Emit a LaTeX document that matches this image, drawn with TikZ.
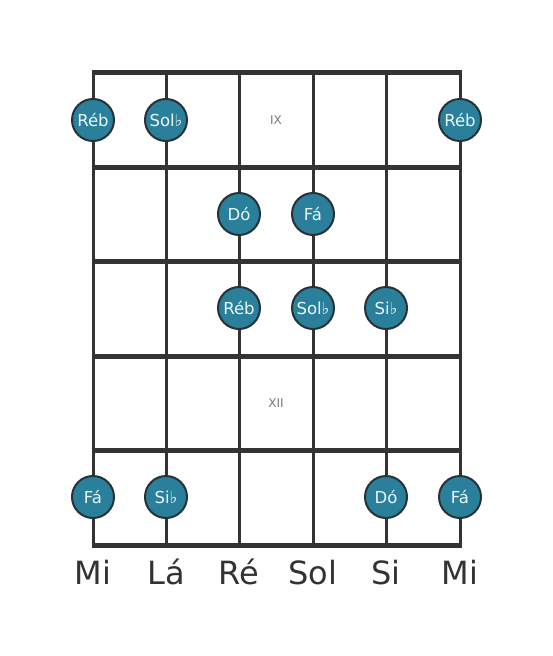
\documentclass[tikz,border=0pt]{standalone}
\usepackage{fontspec}
\setmainfont{DejaVu Sans}
\definecolor{linec}{RGB}{51,51,51}
\definecolor{notefill}{RGB}{42,128,155}
\definecolor{noteedge}{RGB}{38,50,56}
\definecolor{notetext}{RGB}{235,245,248}
\definecolor{fretlbl}{RGB}{120,120,120}
\begin{document}
\begin{tikzpicture}[x=1pt,y=-1pt,
  stringline/.style={draw=linec,line width=3pt},
  fretline/.style={draw=linec,line width=5pt},
  note/.style={circle,fill=notefill,draw=noteedge,line width=2pt,minimum size=42pt,inner sep=0pt,text=notetext,font=\fontsize{16.5}{16.5}\selectfont},
  strname/.style={text=linec,font=\fontsize{32}{32}\selectfont,anchor=base},
  fretname/.style={text=fretlbl,font=\fontsize{12}{12}\selectfont}]
\useasboundingbox (0,0) rectangle (553,656);
% string coordinates
\foreach \i/\x in {1/93,2/166,3/239,4/313,5/386,6/460}{
  \coordinate (s\i t) at (\x,72);
  \coordinate (s\i b) at (\x,545);
  \draw[stringline] (s\i t) -- (s\i b);
}
\foreach \j/\y in {0/72,1/167,2/261,3/356,4/450,5/545}{
  \coordinate (f\j l) at (91.5,\y);
  \coordinate (f\j r) at (461.5,\y);
  \draw[fretline] (f\j l) -- (f\j r);
}
\node[fretname] (ix) at (276,120) {IX};
\node[fretname] (xii) at (276,403) {XII};
% notes
\node[note] (n1) at (93,120) {Réb};
\node[note] (n2) at (166,120) {Sol♭};
\node[note] (n3) at (460,120) {Réb};
\node[note] (n4) at (239,214) {Dó};
\node[note] (n5) at (313,214) {Fá};
\node[note] (n6) at (239,308) {Réb};
\node[note] (n7) at (313,308) {Sol♭};
\node[note] (n8) at (386,308) {Si♭};
\node[note] (n9) at (93,497) {Fá};
\node[note] (n10) at (166,497) {Si♭};
\node[note] (n11) at (386,497) {Dó};
\node[note] (n12) at (460,497) {Fá};
% string names
\node[strname] (m1) at (93,584) {Mi};
\node[strname] (m2) at (166,584) {Lá};
\node[strname] (m3) at (239,584) {Ré};
\node[strname] (m4) at (313,584) {Sol};
\node[strname] (m5) at (386,584) {Si};
\node[strname] (m6) at (460,584) {Mi};
\end{tikzpicture}
\end{document}
